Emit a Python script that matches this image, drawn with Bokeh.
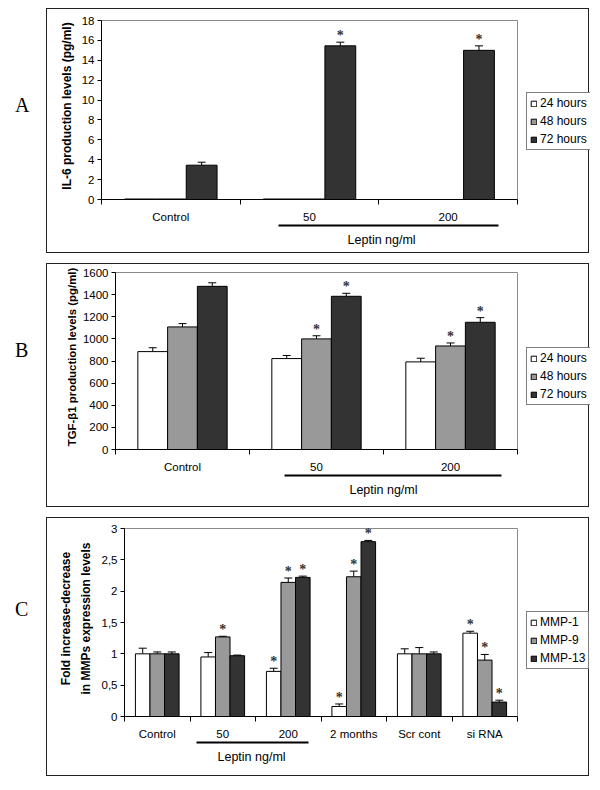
import numpy as np
from bokeh.plotting import figure
from bokeh.models import (Range1d, FixedTicker, LinearAxis, Legend, LegendItem, Whisker,
                          TeeHead, ColumnDataSource, LabelSet, Div, BoxAnnotation)
from bokeh.layouts import column, row
from bokeh.embed import file_html
from bokeh.resources import INLINE

# ---------------- data ----------------
# Panel A : IL-6
a_categories = ["Control", "50", "200"]
a_24h = [0.05, 0.05, 0.0]
a_48h = [0.05, 0.05, 0.0]
a_72h = [3.45, 15.45, 15.0]
a_72h_err = [0.3, 0.37, 0.45]
a_72h_star = [False, True, True]
a_yticks = [0, 2, 4, 6, 8, 10, 12, 14, 16, 18]

# Panel B : TGF-beta1
b_categories = ["Control", "50", "200"]
b_24h = [885, 822, 792]
b_24h_err = [35, 28, 33]
b_48h = [1108, 1000, 936]
b_48h_err = [30, 28, 27]
b_48h_star = [False, True, True]
b_72h = [1475, 1385, 1150]
b_72h_err = [32, 27, 42]
b_72h_star = [False, True, True]
b_yticks = [0, 200, 400, 600, 800, 1000, 1200, 1400, 1600]

# Panel C : MMPs
c_categories = ["Control", "50", "200", "2 months", "Scr cont", "si RNA"]
c_mmp1 = [1.0, 0.95, 0.72, 0.16, 1.0, 1.33]
c_mmp1_err = [0.09, 0.07, 0.05, 0.04, 0.08, 0.03]
c_mmp1_star = [False, False, True, True, False, True]
c_mmp9 = [1.0, 1.27, 2.14, 2.23, 1.0, 0.9]
c_mmp9_err = [0.03, 0.01, 0.07, 0.09, 0.1, 0.09]
c_mmp9_star = [False, True, True, True, False, True]
c_mmp13 = [1.0, 0.97, 2.22, 2.79, 1.0, 0.23]
c_mmp13_err = [0.03, 0.01, 0.02, 0.02, 0.03, 0.03]
c_mmp13_star = [False, False, True, True, False, True]
c_yticks = [0, 0.5, 1, 1.5, 2, 2.5, 3]
c_yticklabels = ["0", "0,5", "1", "1,5", "2", "2,5", "3"]

hours_names = ["24 hours", "48 hours", "72 hours"]
mmp_names = ["MMP-1", "MMP-9", "MMP-13"]
colors = ["#ffffff", "#999999", "#333333"]

FONT = "Liberation Sans"
BAR_W = 1 / 4.5
FIG_W = 543
HEAD = 8   # px of free frame space above the plot area (room for the stars)


def make_panel(cats, series, y_max, y_ticks, y_labels, y_title, height, mb_left, mb_top,
               mb_bottom, ylab_standoff, xlab_standoff, lept_bounds, lept_center,
               plot_w, legend_xy, ylab_size="12px"):
    n = len(cats)
    frame_w = FIG_W - mb_left
    x_end = n * frame_w / plot_w          # room to the right of the bars for the legend
    plot_h = height - mb_top - mb_bottom
    y_end = y_max * (plot_h + HEAD) / plot_h
    p = figure(width=FIG_W, height=height, output_backend="svg", toolbar_location=None,
               x_range=Range1d(0, x_end), y_range=Range1d(0, y_end),
               x_axis_type=None, y_axis_type=None,
               min_border_left=mb_left, min_border_right=0,
               min_border_top=mb_top - HEAD, min_border_bottom=mb_bottom,
               styles={"border": "1px solid #222222"})
    p.outline_line_color = None
    p.background_fill_color = "white"
    p.border_fill_color = "white"

    # grey plot-area border (top / right)
    p.add_layout(BoxAnnotation(left=0, right=n, bottom=0, top=y_max, fill_color=None,
                               fill_alpha=0, line_color="#8a8a8a", line_alpha=1,
                               line_width=1, level="underlay"))

    base = np.arange(n) + 0.5
    items = []
    for k, (name, vals, errs, stars, col) in enumerate(series):
        xs = [float(b + (k - 1) * BAR_W) for b in base]
        src = ColumnDataSource(dict(x=xs, top=vals))
        r = p.vbar(x="x", top="top", bottom=0, width=BAR_W, source=src,
                   fill_color=col, line_color="black", line_width=1)
        items.append(LegendItem(label=name, renderers=[r]))
        if errs is not None:
            up = [v + e for v, e in zip(vals, errs)]
            esrc = ColumnDataSource(dict(x=xs, lower=vals, upper=up))
            p.add_layout(Whisker(source=esrc, base="x", lower="lower", upper="upper",
                                 line_color="black", line_width=1, lower_head=None,
                                 upper_head=TeeHead(size=8, line_color="black", line_width=1)))
            if stars is not None:
                sx = [x for x, s in zip(xs, stars) if s]
                sy = [u for u, s in zip(up, stars) if s]
                ssrc = ColumnDataSource(dict(x=sx, y=sy, t=["*"] * len(sx)))
                p.add_layout(LabelSet(source=ssrc, x="x", y="y", text="t", y_offset=2,
                                      text_align="center", text_baseline="alphabetic",
                                      text_font=FONT, text_font_size="14px",
                                      text_font_style="bold", text_color="#333333"))

    # y axis
    overrides = {float(t): lab for t, lab in zip(y_ticks, y_labels)} if y_labels else {}
    ya = LinearAxis(ticker=FixedTicker(ticks=y_ticks, minor_ticks=[]),
                    bounds=(0, y_max),
                    major_label_overrides=overrides,
                    axis_label=y_title, axis_label_standoff=ylab_standoff,
                    axis_label_text_font=FONT, axis_label_text_font_size=ylab_size,
                    axis_label_text_font_style="bold", axis_label_text_color="black",
                    axis_label_text_line_height=1.4,
                    major_label_text_font=FONT, major_label_text_font_size="11.5px",
                    major_label_text_color="black", major_label_standoff=3,
                    major_tick_out=4, major_tick_in=0, major_tick_line_color="black",
                    minor_tick_line_color=None, axis_line_color="black")
    p.add_layout(ya, "left")

    # x axis: labels at category centres, ticks between categories
    xa = LinearAxis(ticker=FixedTicker(ticks=[float(b) for b in base],
                                       minor_ticks=list(range(n + 1))),
                    bounds=(0, n),
                    major_label_overrides={float(b): c for b, c in zip(base, cats)},
                    major_tick_out=5, major_tick_in=0, major_tick_line_color=None,
                    minor_tick_out=5, minor_tick_in=0, minor_tick_line_color="black",
                    axis_line_color="black", major_label_standoff=xlab_standoff,
                    major_label_text_font=FONT, major_label_text_font_size="11.5px",
                    major_label_text_color="black")
    p.add_layout(xa, "below")

    # invisible spacer axis (gap between labels and leptin bracket)
    sp = LinearAxis(ticker=FixedTicker(ticks=[], minor_ticks=[]), axis_line_color=None,
                    major_tick_out=0, major_tick_in=0, minor_tick_out=0, minor_tick_in=0,
                    major_tick_line_color=None, minor_tick_line_color=None,
                    major_label_standoff=4)
    p.add_layout(sp, "below")

    # Leptin bracket
    la = LinearAxis(ticker=FixedTicker(ticks=[lept_center], minor_ticks=[]),
                    bounds=lept_bounds,
                    major_label_overrides={lept_center: "Leptin ng/ml"},
                    major_tick_out=0, major_tick_in=0, major_tick_line_color=None,
                    minor_tick_line_color=None,
                    axis_line_color="black", axis_line_width=2, major_label_standoff=7,
                    major_label_text_font=FONT, major_label_text_font_size="12.5px",
                    major_label_text_color="black")
    p.add_layout(la, "below")

    legend = Legend(items=items, location=legend_xy, orientation="vertical",
                    label_text_font=FONT, label_text_font_size="12px",
                    label_text_color="black", glyph_width=7, glyph_height=7,
                    label_standoff=3, padding=3, spacing=4, label_height=14, margin=0,
                    border_line_color="black", border_line_width=1,
                    background_fill_color="white", background_fill_alpha=1)
    p.add_layout(legend)
    return p


pa = make_panel(a_categories,
                [(hours_names[0], a_24h, None, None, colors[0]),
                 (hours_names[1], a_48h, None, None, colors[1]),
                 (hours_names[2], a_72h, a_72h_err, a_72h_star, colors[2])],
                18, a_yticks, None, "IL-6 production levels (pg/ml)",
                245, 54, 11, 55, 5, 6, (1.28, 2.86), 2.02, 416, (425, 49))

pb = make_panel(b_categories,
                [(hours_names[0], b_24h, b_24h_err, None, colors[0]),
                 (hours_names[1], b_48h, b_48h_err, b_48h_star, colors[1]),
                 (hours_names[2], b_72h, b_72h_err, b_72h_star, colors[2])],
                1600, b_yticks, None, "TGF-\u03b21 production levels (pg/ml)",
                244, 68, 8, 59, 2, 6, (1.26, 2.88), 2.0, 402, (411, 44), "11.4px")

pc = make_panel(c_categories,
                [(mmp_names[0], c_mmp1, c_mmp1_err, c_mmp1_star, colors[0]),
                 (mmp_names[1], c_mmp9, c_mmp9_err, c_mmp9_star, colors[1]),
                 (mmp_names[2], c_mmp13, c_mmp13_err, c_mmp13_star, colors[2])],
                3, c_yticks, c_yticklabels,
                "Fold increase-decrease\nin MMPs expression levels",
                259, 77, 10, 61, 6, 6, (1.10, 2.81), 1.94, 393, (402, 47))


def letter(t, h, top):
    return Div(text=f'<div style="margin-top:{top}px;margin-left:15px;'
                    f'font-family:\'Liberation Serif\';font-size:20px;color:black">{t}</div>',
               width=46, height=h, margin=0)


layout = column(row(letter("A", 245, 83), pa),
                row(letter("B", 244, 73), pb),
                row(letter("C", 259, 78), pc), spacing=10, margin=(8, 0, 0, 0))

open("out.html", "w").write(file_html(layout, INLINE))
